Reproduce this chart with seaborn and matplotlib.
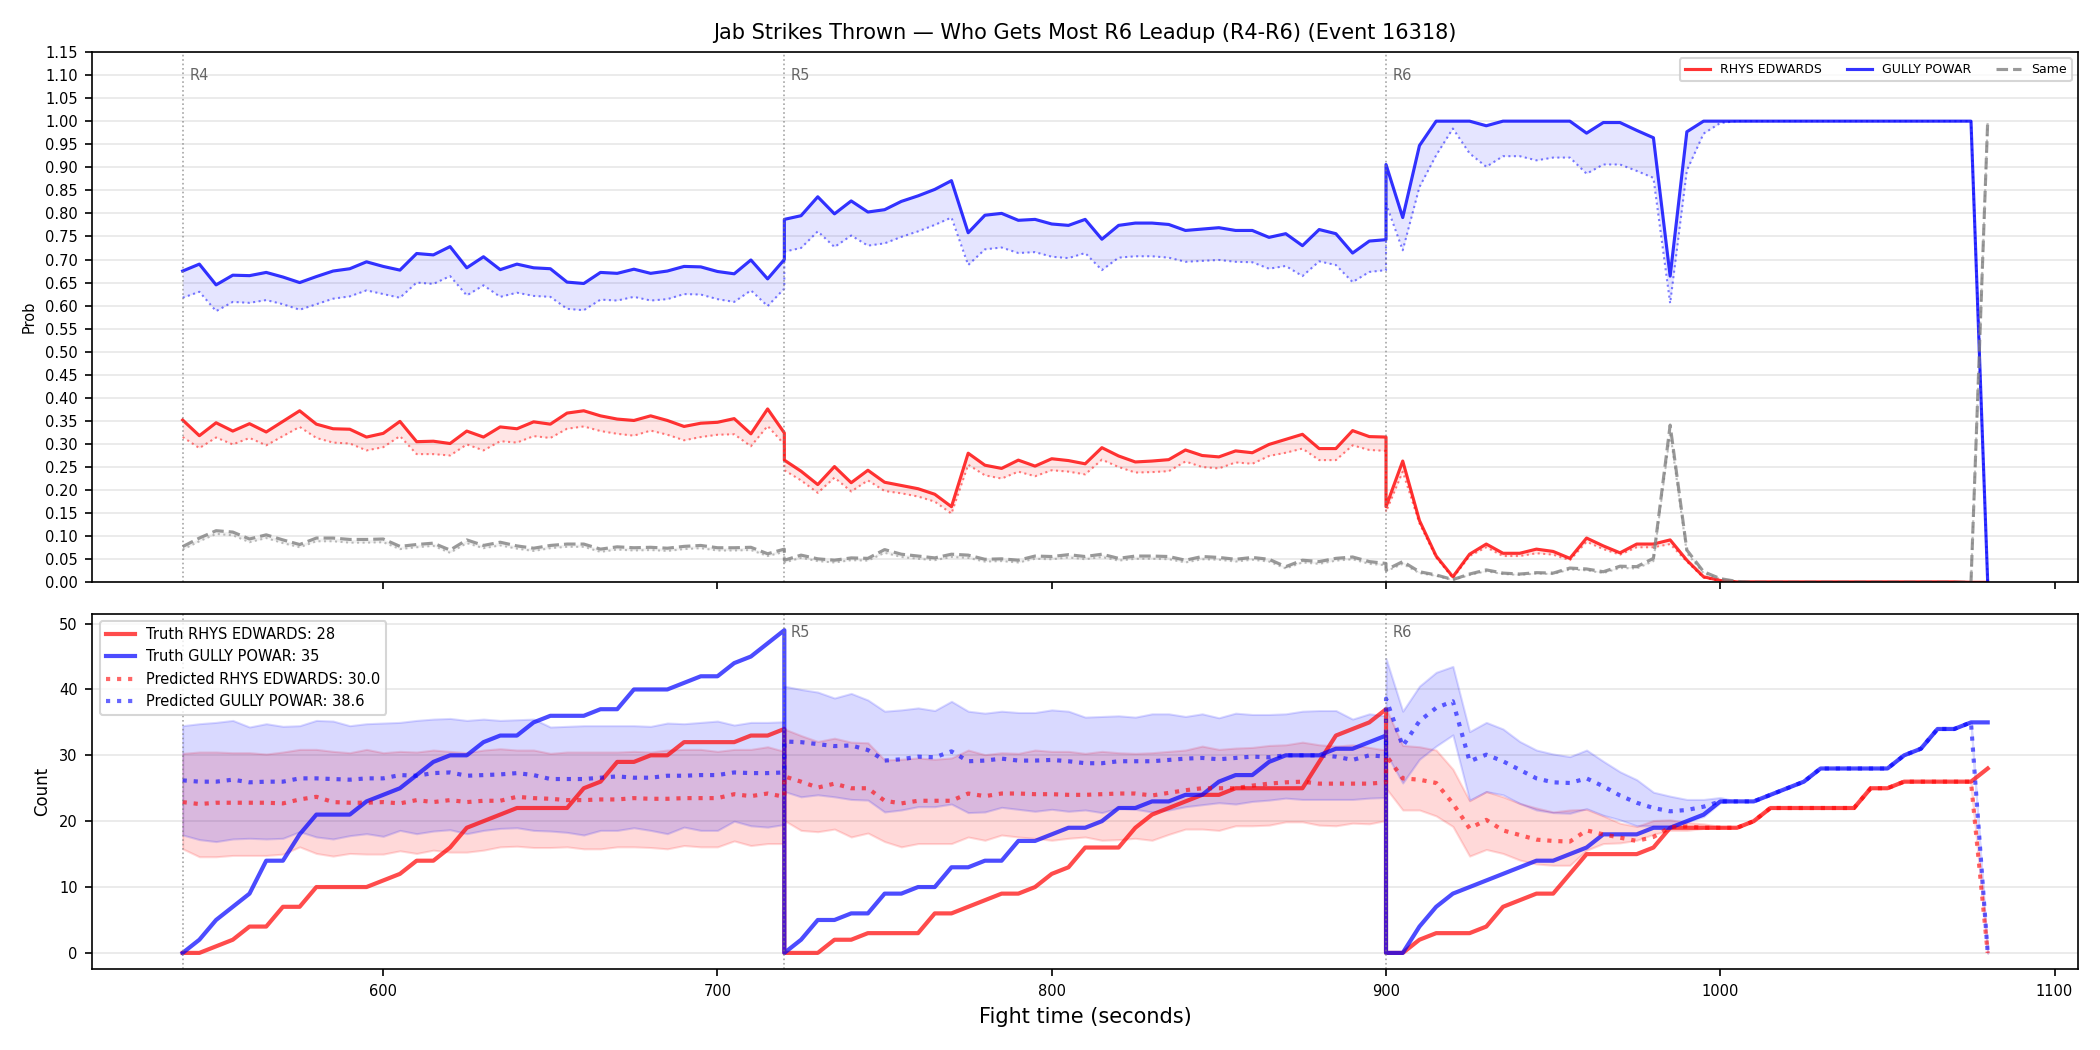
import numpy as np
import pandas as pd
import matplotlib
matplotlib.use("Agg")
import matplotlib.pyplot as plt
import seaborn as sns

# ---------------- data ----------------
round_starts = [540, 720, 900]
round_labels = ["R4", "R5", "R6"]
step = 5
round_len = 180

# top panel: probabilities (per round, 37 points each)
blue_r4 = [0.675, 0.69, 0.645, 0.666, 0.665, 0.672, 0.662, 0.65, 0.663, 0.675, 0.68, 0.695, 0.685, 0.677,
           0.713, 0.71, 0.728, 0.682, 0.706, 0.678, 0.69, 0.682, 0.68, 0.651, 0.648, 0.672, 0.67, 0.679,
           0.67, 0.675, 0.685, 0.684, 0.674, 0.669, 0.699, 0.658, 0.700]
blue_r5 = [0.787, 0.795, 0.836, 0.799, 0.827, 0.803, 0.808, 0.826, 0.838, 0.852, 0.871, 0.758, 0.796, 0.8,
           0.785, 0.787, 0.777, 0.774, 0.787, 0.744, 0.774, 0.779, 0.779, 0.776, 0.763, 0.766, 0.769, 0.763,
           0.763, 0.748, 0.756, 0.730, 0.765, 0.756, 0.714, 0.74, 0.743]
blue_r6 = [0.906, 0.791, 0.947, 1.0, 1.0, 1.0, 0.99, 1.0, 1.0, 1.0, 1.0, 1.0, 0.974, 0.997, 0.997, 0.98,
           0.964, 0.664, 0.977, 1.0, 1.0, 1.0, 1.0, 1.0, 1.0, 1.0, 1.0, 1.0, 1.0, 1.0, 1.0, 1.0, 1.0, 1.0,
           1.0, 1.0, 0.0]
blue_lo_r4 = [0.617, 0.63, 0.588, 0.608, 0.606, 0.612, 0.603, 0.591, 0.603, 0.615, 0.62, 0.633, 0.625, 0.617,
              0.65, 0.647, 0.664, 0.622, 0.644, 0.619, 0.628, 0.621, 0.619, 0.593, 0.59, 0.613, 0.611, 0.619,
              0.611, 0.614, 0.625, 0.624, 0.614, 0.608, 0.633, 0.599, 0.637]
blue_lo_r5 = [0.717, 0.725, 0.761, 0.727, 0.752, 0.73, 0.735, 0.749, 0.761, 0.775, 0.791, 0.688, 0.722, 0.726,
              0.714, 0.716, 0.706, 0.703, 0.714, 0.677, 0.704, 0.707, 0.707, 0.704, 0.695, 0.697, 0.699, 0.695,
              0.694, 0.68, 0.686, 0.664, 0.696, 0.688, 0.651, 0.673, 0.677]
blue_lo_r6 = [0.821, 0.72, 0.857, 0.926, 0.984, 0.93, 0.901, 0.924, 0.924, 0.915, 0.921, 0.921, 0.886, 0.906,
              0.906, 0.892, 0.877, 0.605, 0.893, 0.973, 0.996, 1.0, 1.0, 1.0, 1.0, 1.0, 1.0, 1.0, 1.0, 1.0,
              1.0, 1.0, 1.0, 1.0, 1.0, 1.0, 0.0]

red_r4 = [0.352, 0.318, 0.346, 0.328, 0.344, 0.326, 0.349, 0.372, 0.343, 0.333, 0.332, 0.315, 0.323, 0.349,
          0.305, 0.306, 0.301, 0.328, 0.315, 0.337, 0.333, 0.348, 0.343, 0.367, 0.372, 0.361, 0.354, 0.351,
          0.361, 0.351, 0.338, 0.345, 0.347, 0.355, 0.322, 0.376, 0.324]
red_r5 = [0.265, 0.241, 0.212, 0.251, 0.216, 0.243, 0.217, 0.21, 0.203, 0.191, 0.164, 0.28, 0.254, 0.247,
          0.265, 0.252, 0.268, 0.264, 0.257, 0.292, 0.274, 0.261, 0.263, 0.266, 0.287, 0.275, 0.272, 0.285,
          0.281, 0.299, 0.31, 0.321, 0.29, 0.29, 0.329, 0.316, 0.315]
red_r6 = [0.164, 0.263, 0.134, 0.057, 0.012, 0.061, 0.083, 0.063, 0.063, 0.072, 0.067, 0.052, 0.096, 0.079,
          0.064, 0.083, 0.083, 0.092, 0.048, 0.012, 0.004, 0.001, 0.001, 0.001, 0.001, 0.001, 0.001, 0.001,
          0.001, 0.001, 0.001, 0.001, 0.001, 0.001, 0.001, 0.0, 0.0]
red_lo_r4 = [0.315, 0.291, 0.314, 0.299, 0.313, 0.297, 0.317, 0.337, 0.313, 0.303, 0.301, 0.286, 0.293, 0.317,
             0.278, 0.278, 0.275, 0.299, 0.286, 0.306, 0.303, 0.317, 0.313, 0.333, 0.338, 0.328, 0.322, 0.318,
             0.329, 0.32, 0.308, 0.315, 0.32, 0.321, 0.295, 0.339, 0.299]
red_lo_r5 = [0.243, 0.221, 0.194, 0.227, 0.197, 0.221, 0.198, 0.193, 0.186, 0.175, 0.149, 0.255, 0.232, 0.225,
             0.24, 0.23, 0.243, 0.24, 0.234, 0.266, 0.25, 0.238, 0.239, 0.241, 0.262, 0.25, 0.247, 0.26,
             0.257, 0.274, 0.281, 0.29, 0.265, 0.265, 0.297, 0.287, 0.285]
red_lo_r6 = [0.153, 0.24, 0.128, 0.054, 0.009, 0.057, 0.076, 0.057, 0.057, 0.063, 0.06, 0.048, 0.088, 0.072,
             0.06, 0.076, 0.076, 0.083, 0.045, 0.01, 0.003, 0.0, 0.0, 0.0, 0.0, 0.0, 0.0, 0.0, 0.0, 0.0,
             0.0, 0.0, 0.0, 0.0, 0.0, 0.0, 0.0]

same_r4 = [0.0775, 0.096, 0.112, 0.109, 0.094, 0.103, 0.092, 0.082, 0.096, 0.096, 0.093, 0.093, 0.094, 0.078,
           0.082, 0.085, 0.07, 0.092, 0.08, 0.087, 0.079, 0.074, 0.08, 0.083, 0.083, 0.072, 0.077, 0.075,
           0.076, 0.074, 0.078, 0.08, 0.075, 0.075, 0.076, 0.062, 0.072]
same_r5 = [0.048, 0.059, 0.051, 0.048, 0.053, 0.052, 0.071, 0.061, 0.057, 0.053, 0.061, 0.059, 0.05, 0.051,
           0.048, 0.057, 0.056, 0.06, 0.056, 0.061, 0.052, 0.057, 0.057, 0.056, 0.048, 0.056, 0.054, 0.05,
           0.054, 0.05, 0.034, 0.048, 0.045, 0.052, 0.055, 0.045, 0.041]
same_r6 = [0.027, 0.045, 0.023, 0.016, 0.006, 0.018, 0.027, 0.02, 0.018, 0.021, 0.02, 0.031, 0.029, 0.023,
           0.035, 0.034, 0.052, 0.341, 0.07, 0.023, 0.008, 0.002, 0.0, 0.0, 0.0, 0.0, 0.0, 0.0, 0.0, 0.0,
           0.0, 0.0, 0.0, 0.0, 0.0, 0.0, 1.0]
same_lo_r4 = [0.071, 0.089, 0.105, 0.102, 0.087, 0.096, 0.085, 0.076, 0.089, 0.089, 0.086, 0.086, 0.087, 0.072,
              0.076, 0.079, 0.064, 0.085, 0.074, 0.080, 0.073, 0.068, 0.074, 0.077, 0.077, 0.066, 0.071, 0.069,
              0.070, 0.068, 0.072, 0.074, 0.069, 0.069, 0.070, 0.057, 0.066]
same_lo_r5 = [0.043, 0.053, 0.046, 0.043, 0.048, 0.047, 0.064, 0.055, 0.051, 0.048, 0.055, 0.053, 0.045, 0.046,
              0.043, 0.051, 0.050, 0.054, 0.050, 0.055, 0.047, 0.051, 0.051, 0.050, 0.043, 0.050, 0.049, 0.045,
              0.049, 0.045, 0.030, 0.043, 0.040, 0.047, 0.050, 0.040, 0.037]
same_lo_r6 = [0.024, 0.040, 0.020, 0.014, 0.005, 0.016, 0.024, 0.018, 0.016, 0.019, 0.018, 0.028, 0.026, 0.020,
              0.031, 0.030, 0.046, 0.325, 0.063, 0.020, 0.007, 0.002, 0.0, 0.0, 0.0, 0.0, 0.0, 0.0, 0.0, 0.0,
              0.0, 0.0, 0.0, 0.0, 0.0, 0.0, 1.0]

# bottom panel: cumulative counts
truth_red_r4 = [0, 0, 1, 2, 4, 4, 7, 7, 10, 10, 10, 10, 11, 12, 14, 14, 16, 19, 20, 21, 22, 22, 22, 22, 25, 26,
                29, 29, 30, 30, 32, 32, 32, 32, 33, 33, 34]
truth_red_r5 = [0, 0, 0, 2, 2, 3, 3, 3, 3, 6, 6, 7, 8, 9, 9, 10, 12, 13, 16, 16, 16, 19, 21, 22, 23, 24, 24,
                25, 25, 25, 25, 25, 29, 33, 34, 35, 37]
truth_red_r6 = [0, 0, 2, 3, 3, 3, 4, 7, 8, 9, 9, 12, 15, 15, 15, 15, 16, 19, 19, 19, 19, 19, 20, 22, 22, 22,
                22, 22, 22, 25, 25, 26, 26, 26, 26, 26, 28]
truth_blue_r4 = [0, 2, 5, 7, 9, 14, 14, 18, 21, 21, 21, 23, 24, 25, 27, 29, 30, 30, 32, 33, 33, 35, 36, 36, 36,
                 37, 37, 40, 40, 40, 41, 42, 42, 44, 45, 47, 49]
truth_blue_r5 = [0, 2, 5, 5, 6, 6, 9, 9, 10, 10, 13, 13, 14, 14, 17, 17, 18, 19, 19, 20, 22, 22, 23, 23, 24, 24,
                 26, 27, 27, 29, 30, 30, 30, 31, 31, 32, 33]
truth_blue_r6 = [0, 0, 4, 7, 9, 10, 11, 12, 13, 14, 14, 15, 16, 18, 18, 18, 19, 19, 20, 21, 23, 23, 23, 24, 25,
                 26, 28, 28, 28, 28, 28, 30, 31, 34, 34, 35, 35]

# R6 tail (1005-1075 s) where prediction and band collapse onto truth; final point (1080) drops to 0
r6_tail_red = [19, 20, 22, 22, 22, 22, 22, 22, 25, 25, 26, 26, 26, 26, 26]
r6_tail_blue = [23, 23, 24, 25, 26, 28, 28, 28, 28, 28, 30, 31, 34, 34, 35]
r6_final = [0]

pred_red_r4 = [22.9, 22.6, 22.8, 22.8, 22.8, 22.8, 22.7, 23.3, 23.7, 22.9, 22.8, 22.8, 22.9, 22.7, 23.2, 22.9,
               23.2, 22.9, 23.1, 23.1, 23.7, 23.5, 23.4, 23.2, 23.2, 23.3, 23.3, 23.5, 23.4, 23.4, 23.5, 23.5,
               23.5, 24.1, 23.8, 24.2, 23.7]
pred_red_r5 = [26.8, 26.0, 25.1, 25.7, 25.0, 25.0, 23.1, 22.7, 23.1, 23.1, 23.1, 24.2, 23.8, 24.2, 24.2, 24.1,
               24.1, 24.0, 24.0, 24.1, 24.2, 24.2, 23.9, 24.3, 24.7, 25.0, 25.0, 25.0, 25.4, 25.7, 25.9, 26.0,
               25.7, 25.7, 25.7, 25.7, 25.9]
pred_red_r6 = [30.0, 26.5, 26.3, 25.8, 22.7, 18.9, 20.2, 18.6, 17.9, 17.2, 17.0, 16.9, 18.6, 18.0, 17.5, 17.0,
               17.6, 19.1, 19.2, 19.0, 19.0]
pred_blue_r4 = [26.2, 26.0, 26.0, 26.3, 25.9, 26.0, 26.0, 26.5, 26.5, 26.4, 26.3, 26.5, 26.5, 27.0, 26.9, 27.3,
                27.4, 26.9, 27.0, 27.1, 27.3, 27.0, 26.4, 26.4, 26.4, 26.6, 26.8, 26.6, 26.6, 26.9, 26.9, 27.0,
                27.0, 27.4, 27.3, 27.3, 27.4]
pred_blue_r5 = [32.1, 32.0, 31.7, 31.4, 31.5, 30.8, 29.2, 29.4, 29.8, 29.7, 30.6, 29.1, 29.2, 29.5, 29.2, 29.2,
                29.3, 29.1, 28.8, 28.8, 29.1, 29.1, 29.1, 29.3, 29.5, 29.6, 29.4, 29.6, 29.8, 29.7, 30.0, 30.0,
                30.0, 29.8, 29.3, 30.0, 29.8]
pred_blue_r6 = [38.6, 31.4, 35.2, 37.2, 38.2, 29.1, 30.1, 29.1, 27.8, 26.5, 25.9, 25.8, 26.5, 25.3, 23.9, 22.8,
                22.0, 21.5, 21.7, 22.2, 23.0]

blue_hi_r4 = [34.5, 34.8, 35.0, 35.3, 34.3, 34.8, 34.4, 34.5, 35.3, 35.2, 34.5, 34.8, 34.9, 35.0, 35.3, 35.5,
              35.6, 35.3, 35.5, 35.3, 35.4, 35.5, 34.3, 34.4, 34.5, 34.5, 34.5, 34.5, 34.4, 34.9, 34.8, 35.0,
              35.2, 34.6, 35.0, 35.0, 35.1]
blue_hi_r5 = [40.5, 40.0, 39.6, 38.7, 39.4, 38.4, 36.7, 36.9, 37.2, 36.8, 38.2, 36.7, 36.4, 36.7, 36.5, 36.5,
              36.9, 36.7, 35.8, 35.9, 36.0, 35.8, 36.3, 36.3, 35.9, 36.3, 35.7, 36.4, 36.2, 36.2, 36.3, 36.7,
              36.8, 36.8, 35.5, 36.3, 36.0]
blue_hi_r6 = [44.7, 36.7, 40.5, 42.6, 43.5, 33.6, 35.0, 34.0, 32.1, 30.8, 30.2, 29.8, 30.8, 29.1, 27.5, 26.3,
              24.4, 23.8, 23.3, 23.3, 23.6]
blue_lo_cnt_r4 = [17.9, 17.2, 16.9, 17.3, 17.4, 17.3, 17.4, 18.4, 17.6, 17.3, 17.8, 18.1, 17.7, 18.6, 18.1, 18.5,
                  18.7, 18.1, 18.6, 18.9, 19.0, 18.6, 18.5, 18.3, 17.9, 18.6, 18.6, 19.0, 18.6, 18.1, 19.1,
                  18.6, 18.6, 20.0, 19.3, 19.1, 19.5]
blue_lo_cnt_r5 = [24.5, 23.7, 24.0, 23.7, 23.3, 23.2, 21.4, 21.7, 22.2, 22.2, 22.6, 21.3, 21.4, 22.1, 21.8, 21.5,
                  21.8, 21.5, 21.7, 21.3, 22.0, 21.8, 21.4, 21.7, 22.2, 22.5, 22.8, 22.6, 23.0, 23.2, 23.5,
                  23.3, 23.3, 23.3, 23.3, 23.5, 23.6]
blue_lo_cnt_r6 = [30.3, 25.8, 29.4, 31.4, 33.1, 23.2, 24.5, 24.0, 22.7, 21.7, 21.3, 21.2, 21.9, 20.9, 20.2, 19.3,
                  19.3, 19.3, 19.9, 20.7, 22.8]
red_hi_r4 = [30.3, 30.5, 30.5, 30.4, 30.4, 30.2, 30.5, 30.9, 30.9, 30.6, 30.4, 30.9, 30.4, 30.6, 30.5, 30.8,
             30.6, 30.4, 30.8, 31.0, 30.8, 30.8, 30.3, 30.5, 30.5, 30.5, 30.5, 30.6, 30.5, 30.8, 30.9, 30.9,
             30.6, 30.9, 30.9, 31.3, 30.6]
red_hi_r5 = [34.0, 33.0, 32.1, 32.6, 32.0, 31.9, 29.3, 29.4, 29.6, 29.4, 29.6, 30.8, 30.1, 30.4, 30.3, 30.8,
             30.6, 30.6, 30.3, 30.6, 30.4, 30.3, 30.4, 30.6, 30.8, 31.4, 30.9, 31.1, 31.2, 31.5, 31.6, 32.0,
             31.6, 31.4, 31.6, 31.2, 30.8]
red_hi_r6 = [37.1, 31.5, 31.3, 30.8, 27.9, 23.1, 24.5, 23.7, 22.7, 22.0, 21.4, 21.7, 21.8, 20.8, 19.7, 19.2,
             20.1, 20.2, 19.8, 19.6, 19.2]
red_lo_cnt_r4 = [15.8, 14.6, 14.6, 14.8, 14.8, 14.8, 15.0, 16.1, 15.1, 14.7, 15.1, 15.0, 15.0, 15.5, 15.1, 15.6,
                 15.3, 15.3, 15.6, 16.1, 16.2, 16.0, 16.0, 16.1, 15.8, 15.8, 16.1, 16.1, 16.0, 15.8, 16.3, 16.1,
                 16.1, 17.0, 16.3, 16.6, 16.6]
red_lo_cnt_r5 = [20.1, 18.6, 18.4, 18.8, 17.6, 18.2, 16.9, 16.1, 16.6, 16.6, 16.6, 17.6, 17.1, 17.9, 17.6, 17.4,
                 17.1, 17.4, 17.6, 17.1, 17.2, 17.4, 17.1, 18.0, 18.8, 18.8, 18.6, 19.3, 19.3, 19.4, 19.9, 19.9,
                 19.4, 19.3, 19.7, 19.6, 20.1]
red_lo_cnt_r6 = [25.0, 21.7, 21.7, 20.8, 19.2, 14.7, 15.7, 15.1, 14.1, 13.5, 13.3, 13.3, 15.6, 16.6, 16.7, 17.1,
                 18.0, 18.6, 18.6, 18.9, 18.9]

name_red = "RHYS EDWARDS"
name_blue = "GULLY POWAR"
truth_red_final = 28
truth_blue_final = 35
pred_red_label = 30.0
pred_blue_label = 38.6

# ---------------- assemble ----------------
t = np.concatenate([np.arange(s, s + round_len + 1, step) for s in round_starts]).astype(float)


def cat(*parts):
    return np.concatenate([np.asarray(p, dtype=float) for p in parts])


blue_p = cat(blue_r4, blue_r5, blue_r6)
blue_lo = cat(blue_lo_r4, blue_lo_r5, blue_lo_r6)
red_p = cat(red_r4, red_r5, red_r6)
red_lo = cat(red_lo_r4, red_lo_r5, red_lo_r6)
same_p = cat(same_r4, same_r5, same_r6)
same_lo = cat(same_lo_r4, same_lo_r5, same_lo_r6)

tr_red = cat(truth_red_r4, truth_red_r5, truth_red_r6)
tr_blue = cat(truth_blue_r4, truth_blue_r5, truth_blue_r6)
pr_red = cat(pred_red_r4, pred_red_r5, pred_red_r6, r6_tail_red, r6_final)
pr_blue = cat(pred_blue_r4, pred_blue_r5, pred_blue_r6, r6_tail_blue, r6_final)
b_hi = cat(blue_hi_r4, blue_hi_r5, blue_hi_r6, r6_tail_blue, r6_final)
b_lo = cat(blue_lo_cnt_r4, blue_lo_cnt_r5, blue_lo_cnt_r6, r6_tail_blue, r6_final)
r_hi = cat(red_hi_r4, red_hi_r5, red_hi_r6, r6_tail_red, r6_final)
r_lo = cat(red_lo_cnt_r4, red_lo_cnt_r5, red_lo_cnt_r6, r6_tail_red, r6_final)

# ---------------- plot ----------------
plt.rcParams['font.family'] = ['DejaVu Sans']
fig = plt.figure(figsize=(14, 7), dpi=150)
ax1 = fig.add_axes([0.044, 0.4454, 0.9455, 0.5051])
ax2 = fig.add_axes([0.044, 0.0771, 0.9455, 0.3381], sharex=ax1)

RED = 'red'
BLUE = 'blue'
GRAY = 'gray'

kw = dict(estimator=None, sort=False, legend=False)

# top panel
ax1.fill_between(t, red_lo, red_p, color=RED, alpha=0.1, lw=0)
ax1.fill_between(t, blue_lo, blue_p, color=BLUE, alpha=0.1, lw=0)
ax1.fill_between(t, same_lo, same_p, color=GRAY, alpha=0.1, lw=0)
sns.lineplot(x=t, y=red_lo, ax=ax1, color=RED, lw=1, ls=':', alpha=0.5, **kw)
sns.lineplot(x=t, y=blue_lo, ax=ax1, color=BLUE, lw=1, ls=':', alpha=0.5, **kw)
sns.lineplot(x=t, y=same_lo, ax=ax1, color=GRAY, lw=1, ls=':', alpha=0.5, **kw)
sns.lineplot(x=t, y=red_p, ax=ax1, color=RED, lw=1.5, alpha=0.8, **kw)
sns.lineplot(x=t, y=blue_p, ax=ax1, color=BLUE, lw=1.5, alpha=0.8, **kw)
sns.lineplot(x=t, y=same_p, ax=ax1, color=GRAY, lw=1.5, ls='--', alpha=0.8, **kw)
h_red = ax1.lines[-3]
h_blue = ax1.lines[-2]
h_same = ax1.lines[-1]

ax1.set_ylim(0, 1.15)
ax1.set_yticks(np.round(np.arange(0, 1.151, 0.05), 2))
ax1.set_yticklabels([f"{v:.2f}" for v in np.arange(0, 1.151, 0.05)])
ax1.tick_params(axis='both', labelsize=7)
ax1.tick_params(axis='x', labelbottom=False)
ax1.set_ylabel("Prob", fontsize=7)
ax1.set_xlabel("")
ax1.grid(axis='y', alpha=0.3)
ax1.set_axisbelow(True)
ax1.set_title("Jab Strikes Thrown \u2014 Who Gets Most R6 Leadup (R4-R6) (Event 16318)", fontsize=10)
ax1.legend([h_red, h_blue, h_same], [name_red, name_blue, "Same"], loc='upper right', ncol=3,
           fontsize=6)

# bottom panel
ax2.fill_between(t, r_lo, r_hi, color=RED, alpha=0.15)
ax2.fill_between(t, b_lo, b_hi, color=BLUE, alpha=0.15)
sns.lineplot(x=t, y=tr_red, ax=ax2, color=RED, lw=2, alpha=0.7, **kw)
sns.lineplot(x=t, y=tr_blue, ax=ax2, color=BLUE, lw=2, alpha=0.7, **kw)
sns.lineplot(x=t, y=pr_red, ax=ax2, color=RED, lw=2, ls=':', alpha=0.6, **kw)
sns.lineplot(x=t, y=pr_blue, ax=ax2, color=BLUE, lw=2, ls=':', alpha=0.6, **kw)
l_tr, l_tb, l_pr, l_pb = ax2.lines[-4:]
ax2.tick_params(axis='both', labelsize=7)
ax2.set_ylabel("Count", fontsize=8)
ax2.set_xlabel("Fight time (seconds)", fontsize=10)
ax2.grid(axis='y', alpha=0.3)
ax2.set_axisbelow(True)
ax2.legend([l_tr, l_tb, l_pr, l_pb],
           [f"Truth {name_red}: {truth_red_final}", f"Truth {name_blue}: {truth_blue_final}",
            f"Predicted {name_red}: {pred_red_label:.1f}", f"Predicted {name_blue}: {pred_blue_label:.1f}"],
           loc='upper left', fontsize=7)

for ax in (ax1, ax2):
    for s, lab in zip(round_starts, round_labels):
        ax.axvline(s, color='gray', ls=':', lw=0.8, alpha=0.7)
        # in the lower panel the first round label sits under the legend and is not shown
        if ax is ax2 and s == round_starts[0]:
            continue
        ax.text(s + 2, 0.97, lab, transform=ax.get_xaxis_transform(), fontsize=7,
                color='#555555', alpha=0.9, va='top', ha='left')

ax2.set_xticks([600, 700, 800, 900, 1000, 1100])
ax1.set_xlim(513, 1107)

fig.savefig("out.png", dpi=150)
